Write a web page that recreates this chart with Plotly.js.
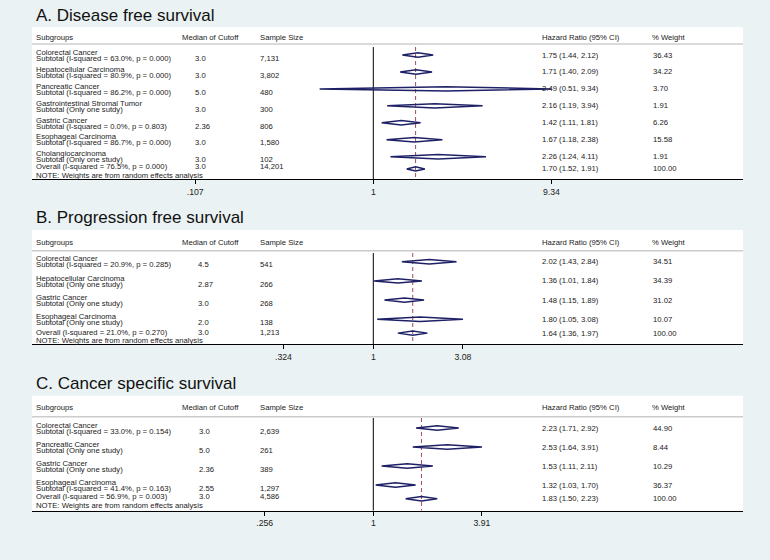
<!DOCTYPE html>
<html>
<head>
<meta charset="utf-8">
<script src="https://cdn.plot.ly/plotly-3.0.1.min.js"></script>
<style>html,body{margin:0;padding:0;background:#eaf2f3;}</style>
</head>
<body>
<div id="chart" style="width:770px;height:560px;"></div>
<script>
// A. Disease free survival
const groupsA = ['Colorectal Cancer', 'Hepatocellular Carcinoma', 'Pancreatic Cancer',
  'Gastrointestinal Stromal Tumor', 'Gastric Cancer', 'Esophageal Carcinoma', 'Cholangiocarcinoma'];
const subtotalA = ['Subtotal (I-squared = 63.0%, p = 0.000)', 'Subtotal (I-squared = 80.9%, p = 0.000)',
  'Subtotal (I-squared = 86.2%, p = 0.000)', 'Subtotal (Only one sutdy)',
  'Subtotal (I-squared = 0.0%, p = 0.803)', 'Subtotal (I-squared = 86.7%, p = 0.000)',
  'Subtotal (Only one study)'];
const cutoffA = ['3.0', '3.0', '5.0', '3.0', '2.36', '3.0', '3.0'];
const sizeA = ['7,131', '3,802', '480', '300', '806', '1,580', '102'];
const hrA = [1.75, 1.71, 2.49, 2.16, 1.42, 1.67, 2.26];
const loA = [1.44, 1.40, 0.51, 1.19, 1.11, 1.18, 1.24];
const hiA = [2.12, 2.09, 9.34, 3.94, 1.81, 2.38, 4.11];
const weightA = ['36.43', '34.22', '3.70', '1.91', '6.26', '15.58', '1.91'];
const overallA = {label: 'Overall (I-squared = 76.5%, p = 0.000)', cutoff: '3.0', size: '14,201',
  hr: 1.70, lo: 1.52, hi: 1.91, weight: '100.00'};
const ticksA = [0.107, 1, 9.34];
const tickTextA = ['.107', '1', '9.34'];

// B. Progression free survival
const groupsB = ['Colorectal Cancer', 'Hepatocellular Carcinoma', 'Gastric Cancer', 'Esophageal Carcinoma'];
const subtotalB = ['Subtotal (I-squared = 20.9%, p = 0.285)', 'Subtotal (Only one study)',
  'Subtotal (Only one study)', 'Subtotal (Only one study)'];
const cutoffB = ['4.5', '2.87', '3.0', '2.0'];
const sizeB = ['541', '266', '268', '138'];
const hrB = [2.02, 1.36, 1.48, 1.80];
const loB = [1.43, 1.01, 1.15, 1.05];
const hiB = [2.84, 1.84, 1.89, 3.08];
const weightB = ['34.51', '34.39', '31.02', '10.07'];
const overallB = {label: 'Overall (I-squared = 21.0%, p = 0.270)', cutoff: '3.0', size: '1,213',
  hr: 1.64, lo: 1.36, hi: 1.97, weight: '100.00'};
const ticksB = [0.324, 1, 3.08];
const tickTextB = ['.324', '1', '3.08'];

// C. Cancer specific survival
const groupsC = ['Colorectal Cancer', 'Pancreatic Cancer', 'Gastric Cancer', 'Esophageal Carcinoma'];
const subtotalC = ['Subtotal (I-squared = 33.0%, p = 0.154)', 'Subtotal (Only one study)',
  'Subtotal (Only one study)', 'Subtotal (I-squared = 41.4%, p = 0.163)'];
const cutoffC = ['3.0', '5.0', '2.36', '2.55'];
const sizeC = ['2,639', '261', '389', '1,297'];
const hrC = [2.23, 2.53, 1.53, 1.32];
const loC = [1.71, 1.64, 1.11, 1.03];
const hiC = [2.92, 3.91, 2.11, 1.70];
const weightC = ['44.90', '8.44', '10.29', '36.37'];
const overallC = {label: 'Overall (I-squared = 56.9%, p = 0.003)', cutoff: '3.0', size: '4,586',
  hr: 1.83, lo: 1.50, hi: 2.23, weight: '100.00'};
const ticksC = [0.256, 1, 3.91];
const tickTextC = ['.256', '1', '3.91'];

const W = 770, H = 560;
const FONT = 'Arial, "Liberation Sans", sans-serif';
const NAVY = '#1f2166';
const TXT = '#1a1a1a';
const LEFT = 32, RIGHT = 743;
// log scale: x=1 sits at 373.3px, 79.7px per ln unit
const ONE_PX = 373.3, PX_PER_LN = 79.7;
const xRange = [(LEFT - ONE_PX) / PX_PER_LN / Math.LN10, (RIGHT - ONE_PX) / PX_PER_LN / Math.LN10];

const panels = [
  {title: 'A. Disease free survival', titleY: 15, top: 27, bottom: 179.3, row1: 55, step: 16.95,
   head: 37, sep: 44, vtop: 47, ovShift: 2, cutX: 194,
   groups: groupsA, subtotal: subtotalA, cutoff: cutoffA, size: sizeA, hr: hrA, lo: loA, hi: hiA,
   weight: weightA, overall: overallA, ticks: ticksA, tickText: tickTextA},
  {title: 'B. Progression free survival', titleY: 218, top: 230, bottom: 344.3, row1: 261.7, step: 19.2,
   head: 242.3, sep: 250.7, vtop: 253, ovShift: 0.5, cutX: 197,
   groups: groupsB, subtotal: subtotalB, cutoff: cutoffB, size: sizeB, hr: hrB, lo: loB, hi: hiB,
   weight: weightB, overall: overallB, ticks: ticksB, tickText: tickTextB},
  {title: 'C. Cancer specific survival', titleY: 383, top: 395.7, bottom: 510.7, row1: 428, step: 19,
   head: 407.7, sep: 416.7, vtop: 418, ovShift: 2.5, cutX: 198,
   groups: groupsC, subtotal: subtotalC, cutoff: cutoffC, size: sizeC, hr: hrC, lo: loC, hi: hiC,
   weight: weightC, overall: overallC, ticks: ticksC, tickText: tickTextC}
];

const fmt = v => v.toFixed(2);
const data = [];
const annotations = [];
const shapes = [];
const layout = {
  width: W, height: H,
  margin: {l: 0, r: 0, t: 0, b: 0},
  paper_bgcolor: '#eaf2f3',
  plot_bgcolor: '#ffffff',
  showlegend: false,
  font: {family: FONT, color: TXT}
};

panels.forEach((p, k) => {
  const sfx = k === 0 ? '' : String(k + 1);
  const xa = 'x' + sfx, ya = 'y' + sfx;
  const toRow = px => (px - p.row1) / p.step + 1;
  const n = p.groups.length;
  const ovRow = n + 0.72;
  const half = 2.2 / p.step;

  layout['xaxis' + sfx] = {
    type: 'log', range: xRange, domain: [LEFT / W, RIGHT / W], anchor: ya,
    showgrid: false, zeroline: false, showline: true, linecolor: '#000', linewidth: 1,
    ticks: 'outside', ticklen: 4, tickcolor: '#000', tickwidth: 1,
    tickvals: p.ticks, ticktext: p.tickText,
    tickfont: {family: FONT, size: 8.7, color: '#222'}, fixedrange: true
  };
  layout['yaxis' + sfx] = {
    domain: [1 - p.bottom / H, 1 - p.top / H], anchor: xa,
    range: [toRow(p.bottom), toRow(p.top)],
    visible: false, showgrid: false, zeroline: false, fixedrange: true
  };

  // diamonds: subgroups then overall
  const dx = [], dy = [];
  const addDiamond = (lo, hr, hi, r) => {
    dx.push(lo, hr, hi, hr, lo, null);
    dy.push(r, r - half, r, r + half, r, null);
  };
  p.hr.forEach((h, i) => addDiamond(p.lo[i], h, p.hi[i], i + 1));
  addDiamond(p.overall.lo, p.overall.hr, p.overall.hi, ovRow);
  data.push({
    type: 'scatter', mode: 'lines', x: dx, y: dy, xaxis: xa, yaxis: ya,
    line: {color: NAVY, width: 1.5}, hoverinfo: 'skip', connectgaps: false
  });

  const txt = (text, xpx, y, yshift, size) => ({
    text: text, xref: 'paper', x: xpx / W, xanchor: 'left',
    yref: ya, y: y, yanchor: 'middle', yshift: yshift || 0,
    showarrow: false, borderpad: 0,
    font: {family: FONT, size: size || 7.7, color: TXT}
  });

  annotations.push({
    text: p.title, xref: 'paper', x: 34 / W, xanchor: 'left',
    yref: 'paper', y: 1 - p.titleY / H, yanchor: 'middle', showarrow: false,
    font: {family: FONT, size: 17, color: '#111'}
  });

  const hy = toRow(p.head);
  annotations.push(txt('Subgroups', 35, hy, 0));
  annotations.push(txt('Median of Cutoff', 181, hy, 0));
  annotations.push(txt('Sample Size', 259, hy, 0));
  annotations.push(txt('Hazard Ratio (95% CI)', 541, hy, 0));
  annotations.push(txt('% Weight', 651, hy, 0));

  p.groups.forEach((g, i) => {
    const r = i + 1;
    annotations.push(txt(g, 35, r, 2.8));
    annotations.push(txt(p.subtotal[i], 35, r, -3.2));
    annotations.push(txt(p.cutoff[i], p.cutX, r, -3.2));
    annotations.push(txt(p.size[i], 259, r, -3.2));
    annotations.push(txt(fmt(p.hr[i]) + ' (' + fmt(p.lo[i]) + ', ' + fmt(p.hi[i]) + ')', 541, r, 0));
    annotations.push(txt(p.weight[i], 652, r, 0));
  });

  const o = p.overall;
  annotations.push(txt(o.label, 35, ovRow, p.ovShift));
  annotations.push(txt(o.cutoff, p.cutX, ovRow, p.ovShift));
  annotations.push(txt(o.size, 259, ovRow, p.ovShift));
  annotations.push(txt(fmt(o.hr) + ' (' + fmt(o.lo) + ', ' + fmt(o.hi) + ')', 541, ovRow, 0));
  annotations.push(txt(o.weight, 652, ovRow, 0));
  annotations.push(txt('NOTE: Weights are from random effects analysis', 35, ovRow, -7));

  // header separator
  shapes.push({type: 'line', xref: 'paper', x0: LEFT / W, x1: RIGHT / W,
    yref: ya, y0: toRow(p.sep), y1: toRow(p.sep),
    line: {color: '#cccccc', width: 1.5}});
  // no-effect line
  shapes.push({type: 'line', xref: xa, x0: 1, x1: 1, yref: ya, y0: toRow(p.vtop), y1: toRow(p.bottom),
    layer: 'below', line: {color: '#000', width: 1}});
  // overall estimate line
  shapes.push({type: 'line', xref: xa, x0: o.hr, x1: o.hr, yref: ya, y0: toRow(p.vtop), y1: toRow(p.bottom),
    layer: 'below', line: {color: '#a0505a', width: 1, dash: '4px,3px'}});
});

layout.annotations = annotations;
layout.shapes = shapes;

Plotly.newPlot('chart', data, layout, {displayModeBar: false, staticPlot: true});
</script>
</body>
</html>
